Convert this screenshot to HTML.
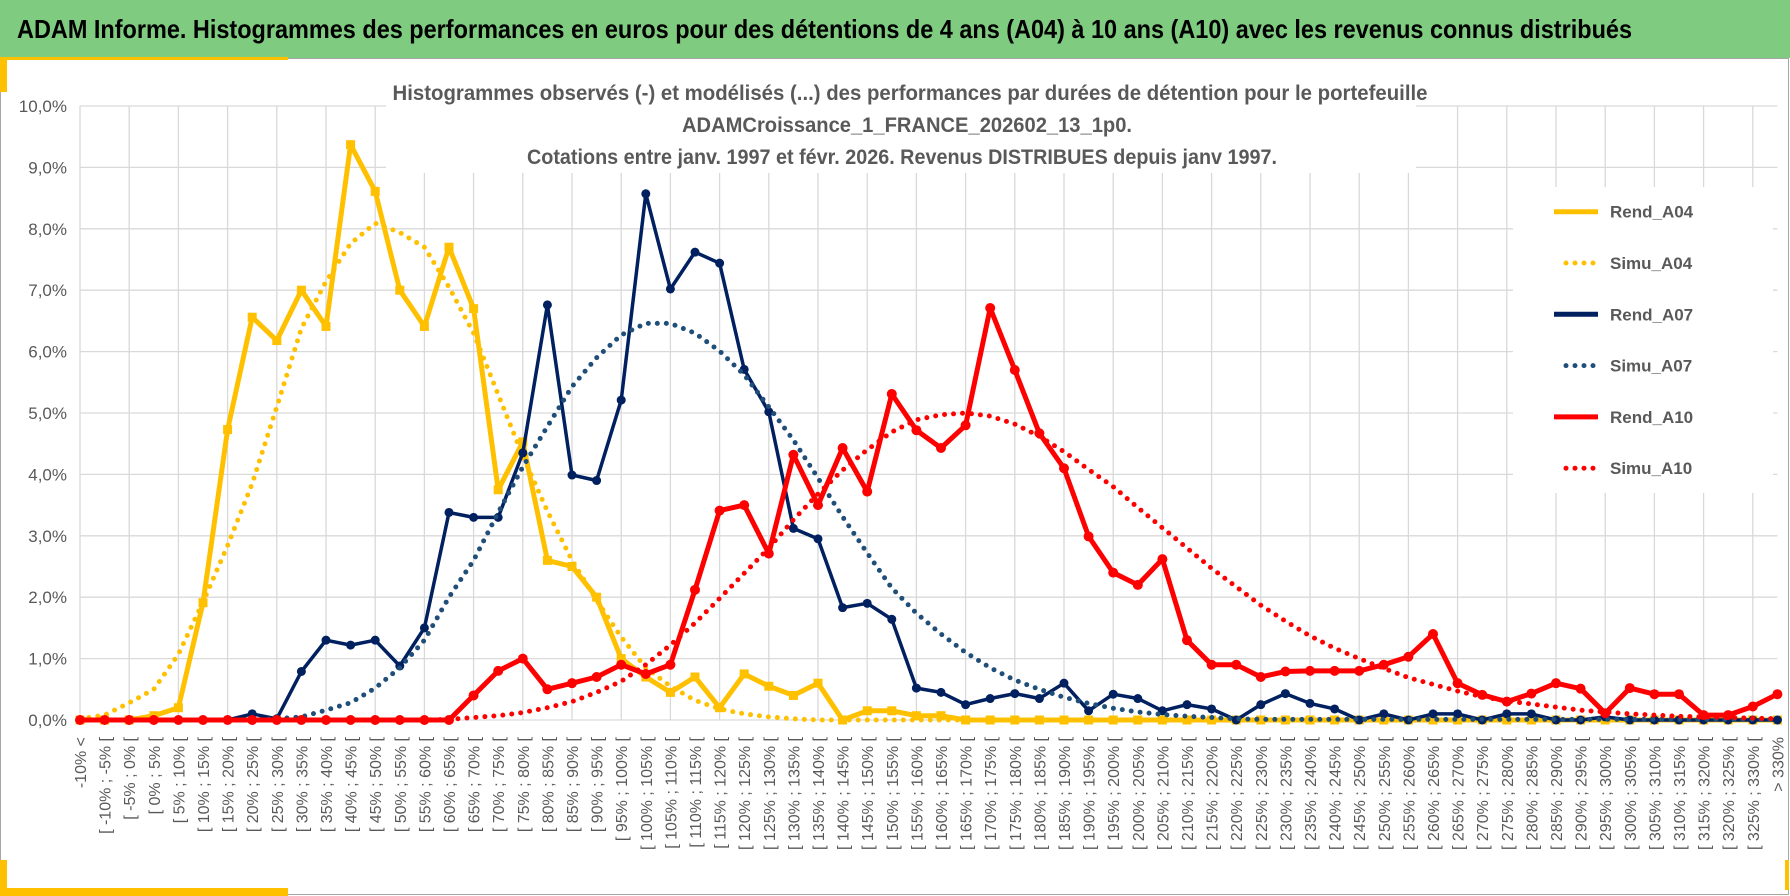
<!DOCTYPE html>
<html><head><meta charset="utf-8"><style>
html,body{margin:0;padding:0;background:#fff;}
svg{display:block;font-family:"Liberation Sans",sans-serif;}
</style></head><body>
<svg id="chart" width="1790" height="896" viewBox="0 0 1790 896">
<rect x="0" y="0" width="1790" height="58" fill="#7fcb7f"/>
<text x="17" y="38" font-size="26" font-weight="bold" fill="#000" textLength="1615" lengthAdjust="spacingAndGlyphs">ADAM Informe. Histogrammes des performances en euros pour des détentions de 4 ans (A04) à 10 ans (A10) avec les revenus connus distribués</text>
<rect x="0.5" y="58.5" width="1788" height="836" fill="#fff" stroke="#a6a6a6" stroke-width="1"/>
<rect x="0" y="57" width="288" height="3" fill="#ffc000"/>
<rect x="0" y="57" width="7" height="35" fill="#ffc000"/>
<rect x="0" y="860" width="7" height="36" fill="#ffc000"/>
<rect x="0" y="888" width="288" height="8" fill="#ffc000"/>
<rect x="1785" y="860" width="4" height="30" fill="#ffc000"/>
<g id="grid"></g>
<rect x="386" y="78" width="1030" height="95" fill="#fff"/>
<g font-weight="bold" fill="#595959" font-size="21" text-anchor="middle">
<text x="910" y="100" textLength="1035" lengthAdjust="spacingAndGlyphs">Histogrammes observés (-) et modélisés (...) des performances par durées de détention pour le portefeuille</text>
<text x="907" y="132" textLength="450" lengthAdjust="spacingAndGlyphs">ADAMCroissance_1_FRANCE_202602_13_1p0.</text>
<text x="902" y="164" textLength="750" lengthAdjust="spacingAndGlyphs">Cotations  entre janv. 1997 et févr. 2026. Revenus DISTRIBUES depuis janv 1997.</text>
</g>
<g id="yaxis"></g>
<g id="xaxis"></g>
<g id="series"></g>
<rect x="1513" y="187" width="260" height="306" fill="#fff"/>
<g id="legend"></g>
</svg>
<script>
const yTicks = [0,1,2,3,4,5,6,7,8,9,10];
const yTickLabels = ["0,0%","1,0%","2,0%","3,0%","4,0%","5,0%","6,0%","7,0%","8,0%","9,0%","10,0%"];
const categories = (function(){const c=["-10% <"];for(let a=-10;a<330;a+=5){c.push("[ "+a+"% ; "+(a+5)+"% [");}c.push("> 330%");return c;})();
const seriesNames = ["Rend_A04","Simu_A04","Rend_A07","Simu_A07","Rend_A10","Simu_A10"];
const rendA04 = [0,0,0,0.07,0.2,1.91,4.73,6.56,6.18,7.0,6.41,9.37,8.61,7.0,6.41,7.7,6.7,3.75,4.53,2.6,2.5,2.0,1.0,0.7,0.45,0.7,0.2,0.75,0.55,0.4,0.6,0.0,0.15,0.15,0.07,0.07,0,0,0,0,0,0,0,0,0,0,0,0,0,0,0,0,0,0,0,0,0,0,0,0,0,0,0,0,0,0,0,0,0,0];
const simuA04 = [0.02,0.08,0.28,0.5,1.07,1.92,2.84,3.85,5.1,6.38,7.14,7.76,8.09,7.94,7.7,7.05,6.3,5.3,4.3,3.4,2.6,1.95,1.35,0.85,0.55,0.32,0.18,0.1,0.05,0.02,0,0,0,0,0,0,0,0,0,0,0,0,0,0,0,0,0,0,0,0,0,0,0,0,0,0,0,0,0,0,0,0,0,0,0,0,0,0,0,0];
const rendA07 = [0,0,0,0,0,0,0,0.1,0.02,0.79,1.3,1.22,1.3,0.88,1.5,3.38,3.3,3.3,4.35,6.76,3.99,3.9,5.21,8.57,7.02,7.62,7.44,5.71,5.02,3.12,2.95,1.83,1.9,1.64,0.52,0.45,0.25,0.35,0.43,0.35,0.6,0.15,0.42,0.35,0.15,0.25,0.18,0.0,0.25,0.43,0.27,0.18,0,0.1,0,0.1,0.1,0,0.1,0.1,0,0,0.05,0,0,0,0,0,0,0];
const simuA07 = [0,0,0,0,0,0,0,0,0.02,0.05,0.16,0.28,0.52,0.85,1.3,2.0,2.6,3.38,4.12,4.78,5.43,5.9,6.27,6.46,6.46,6.3,6.01,5.62,5.1,4.56,3.94,3.31,2.72,2.15,1.74,1.4,1.1,0.85,0.65,0.5,0.37,0.27,0.19,0.13,0.09,0.06,0.04,0.02,0.01,0.01,0.01,0.01,0.01,0.01,0.01,0.01,0.01,0.01,0.01,0.01,0.01,0.01,0.01,0.01,0.01,0.01,0.01,0.01,0.01,0.01];
const rendA10 = [0,0,0,0,0,0,0,0,0,0,0,0,0,0,0,0,0.4,0.8,1.0,0.5,0.6,0.7,0.9,0.75,0.9,2.12,3.41,3.5,2.71,4.32,3.5,4.43,3.72,5.31,4.72,4.43,4.8,6.71,5.7,4.67,4.1,2.99,2.4,2.2,2.62,1.3,0.9,0.9,0.7,0.79,0.8,0.8,0.8,0.9,1.03,1.4,0.6,0.41,0.3,0.43,0.6,0.51,0.11,0.52,0.42,0.42,0.08,0.08,0.22,0.42];
const simuA10 = [0,0,0,0,0,0,0,0,0,0,0,0,0,0,0,0.01,0.04,0.07,0.12,0.2,0.3,0.45,0.63,0.9,1.22,1.58,1.98,2.39,2.8,3.26,3.68,4.07,4.4,4.69,4.89,4.97,5.0,4.95,4.82,4.62,4.37,4.08,3.8,3.46,3.13,2.8,2.47,2.17,1.87,1.61,1.37,1.17,1.0,0.84,0.69,0.58,0.47,0.38,0.31,0.26,0.21,0.16,0.13,0.1,0.08,0.06,0.05,0.04,0.03,0.02];

const NS="http://www.w3.org/2000/svg";
const X0=80, DX=24.6, Y0=720, DY=61.4;
function xs(i){return X0+i*DX;}
function ys(v){return Y0-v*DY;}
function mk(tag,attrs,parent){const e=document.createElementNS(NS,tag);for(const k in attrs)e.setAttribute(k,attrs[k]);parent.appendChild(e);return e;}

const grid=document.getElementById('grid');
const yaxis=document.getElementById('yaxis');
yTicks.forEach((t,k)=>{
  const l=mk('line',{x1:xs(0),x2:xs(categories.length-1),y1:ys(t),y2:ys(t),stroke:'#d9d9d9','stroke-width':1.3},grid);
  
  
  const tx=mk('text',{x:67,y:ys(t)+6,'text-anchor':'end','font-size':17,fill:'#595959'},yaxis);
  tx.textContent=yTickLabels[k];
  
  
});
for(let i=0;i<categories.length;i+=2){
  const l=mk('line',{x1:xs(i),x2:xs(i),y1:ys(10),y2:ys(0),stroke:'#d9d9d9','stroke-width':1.3},grid);
  
  
}
const xaxis=document.getElementById('xaxis');
categories.forEach((c,i)=>{
  const x=xs(i)+6, y=737;
  const t=mk('text',{x:x,y:y,transform:'rotate(-90 '+x+' '+y+')','text-anchor':'end','font-size':16,fill:'#595959'},xaxis);
  t.textContent=c;
  
  
});

const styles=[
 {data:rendA04,color:'#ffc000',w:5,dash:null,marker:'square'},
 {data:simuA04,color:'#ffc000',w:5,dash:'0 9',marker:null},
 {data:rendA07,color:'#002060',w:3.5,dash:null,marker:'circle'},
 {data:simuA07,color:'#1f4e79',w:5,dash:'0 9',marker:null},
 {data:rendA10,color:'#ff0000',w:5,dash:null,marker:'circle'},
 {data:simuA10,color:'#ff0000',w:5,dash:'0 9',marker:null}
];
const sg=document.getElementById('series');
styles.forEach((s,k)=>{
  const g=mk('g',{},sg);
  
  
  const pts=s.data.map((v,i)=>xs(i).toFixed(1)+','+ys(v).toFixed(1)).join(' ');
  const a={points:pts,fill:'none',stroke:s.color,'stroke-width':s.w,'stroke-linejoin':'round'};
  if(s.dash){a['stroke-dasharray']=s.dash;a['stroke-linecap']='round';}
  const pl=mk('polyline',a,g);
  
  
  if(s.marker){
    s.data.forEach((v,i)=>{
      let m;
      if(s.marker==='square') m=mk('rect',{x:xs(i)-4.5,y:ys(v)-4.5,width:9,height:9,fill:s.color},g);
      else m=mk('circle',{cx:xs(i),cy:ys(v),r:(k===2?4.5:5),fill:s.color},g);
      
      
    });
  }
});

const lg=document.getElementById('legend');
styles.forEach((s,k)=>{
  const y=211.7+k*51.3;
  const g=mk('g',{},lg);
  
  
  const a={x1:1554,x2:1598,y1:y,y2:y,stroke:s.color,'stroke-width':5};
  if(s.dash){a['stroke-dasharray']=s.dash;a['stroke-linecap']='round';a.x1=1566;}
  mk('line',a,g);
  const t=mk('text',{x:1610,y:y+6,'font-size':17,'font-weight':'bold',fill:'#595959'},g);
  t.textContent=seriesNames[k];
  
  
});
</script>
</body></html>
